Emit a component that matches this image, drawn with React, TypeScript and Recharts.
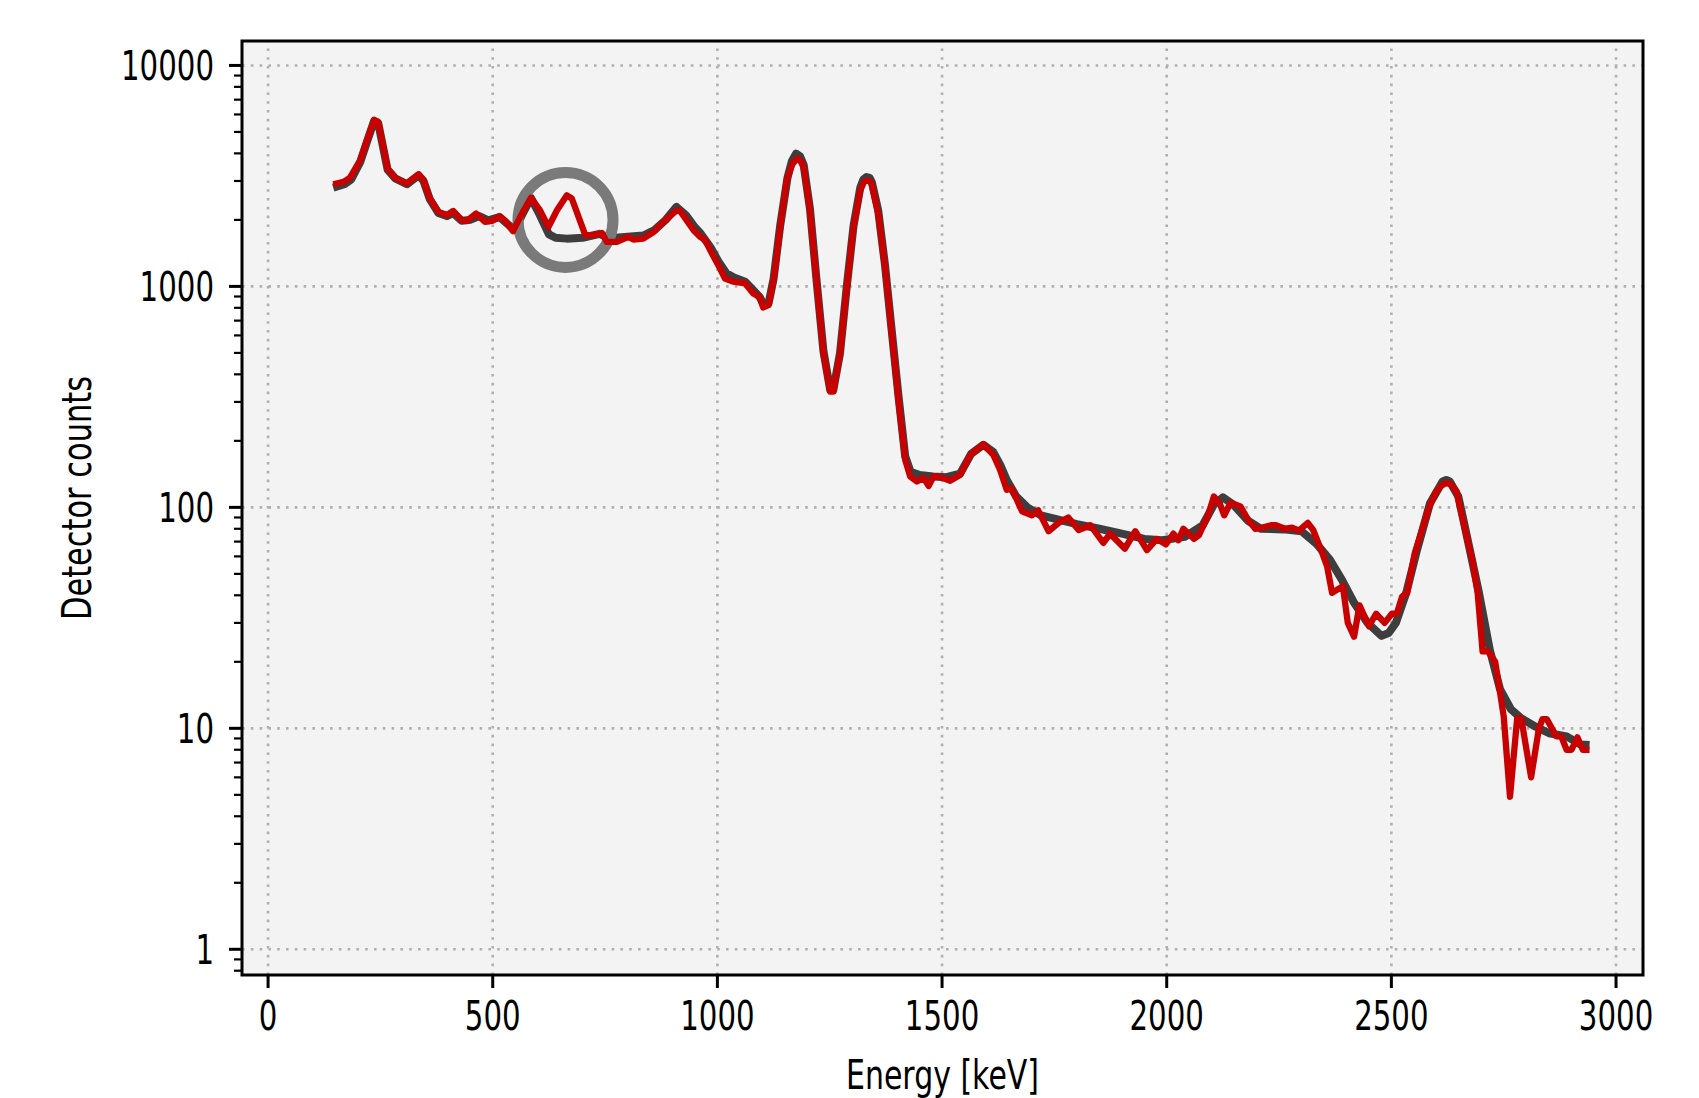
import React from "react";
import {
  LineChart,
  Line,
  XAxis,
  YAxis,
  ReferenceLine,
  ReferenceArea,
  ReferenceDot,
  Label,
} from "recharts";

// ---- data ----
const measuredEnergy = [
  145, 168, 182, 205, 220, 236, 245, 266, 283, 309, 335, 346, 360, 379, 398, 412, 431, 442, 463, 483,
  498, 515, 528, 545, 565, 585, 605, 624, 643, 665, 676, 706, 724, 743, 754, 776, 802, 813, 835, 858,
  880, 910, 917, 947, 962, 973, 984, 1002, 1017, 1036, 1062, 1080, 1094, 1102, 1114, 1125, 1140, 1154,
  1166, 1177, 1184, 1192, 1206, 1221, 1236, 1251, 1258, 1273, 1288, 1303, 1318, 1326, 1333, 1340, 1344,
  1358, 1373, 1388, 1403,
  1418, 1429, 1444, 1459, 1470, 1481, 1496, 1518, 1540, 1563, 1592, 1614, 1629, 1644, 1655, 1678, 1700,
  1714, 1737, 1759, 1781, 1804, 1830, 1859, 1874, 1907, 1930, 1956, 1978, 1998, 2015, 2026, 2037, 2061,
  2072, 2092, 2105, 2119, 2128, 2142, 2164, 2181, 2197, 2213, 2232, 2243, 2263, 2279, 2294, 2314, 2326,
  2345, 2357, 2368, 2392, 2403, 2417, 2429, 2450, 2466, 2485, 2501, 2512, 2524, 2535, 2552, 2563, 2583,
  2598, 2610, 2622, 2633, 2645, 2668, 2680, 2692, 2703, 2715, 2731, 2742, 2750, 2764, 2780, 2789, 2811,
  2828, 2836, 2846, 2867, 2878, 2890, 2901, 2914, 2926, 2941,
];
const measuredCounts = [
  2900, 2970, 3100, 3720, 4580, 5680, 5560, 3410, 3100, 2920, 3215, 3020, 2500, 2175, 2100, 2195, 1990,
  1977, 2136, 1960, 1977, 2077, 1977, 1777, 2136, 2515, 2212, 1858, 2212, 2583, 2500, 1706, 1706, 1745,
  1589, 1589, 1674, 1630, 1645, 1763, 1960, 2212, 2195, 1795, 1674, 1618, 1458, 1248, 1086, 1050, 1031,
  929, 897, 803, 822, 1067, 1858, 3020,
  3550, 3787, 3720, 3470, 2212, 1031, 498, 334, 334, 498, 995, 1858, 2723, 2960, 3020, 2990, 2870,
  2136, 1225, 613, 306,
  164, 138, 131, 136, 125, 138, 137, 132, 140, 173, 193, 173, 148, 120, 122,
  96, 92, 97, 78, 85, 90, 79, 83, 69, 76, 65, 78, 64, 72, 68, 76, 71, 80, 72, 75, 92, 112, 103, 92, 105,
  101, 88, 80, 81, 83, 83, 80, 81, 78.5, 85, 79, 63, 54, 41, 44, 30, 26, 36, 29, 33, 30, 33, 33, 39.5, 41,
  62, 73, 99, 116, 125, 129, 127, 118, 73, 58, 41, 22.3, 22.3, 20, 14.5, 11.3, 4.9, 11.1, 11.1, 6.0,
  9.9, 11, 11, 9.2, 9.2, 8.0, 8.0, 9.1, 8.0, 8.0,
];

const fitEnergy = [
  145, 170, 185, 205, 220, 236, 245, 266, 283, 309, 335, 346, 360, 379, 398, 412, 431, 450, 470, 490,
  515, 535, 550, 565, 585, 605, 625, 640, 665, 700, 738, 760, 800, 835, 860, 885, 909, 930, 950, 962,
  985, 1002, 1020, 1040, 1062, 1080, 1095, 1102, 1114, 1125, 1140, 1156, 1166, 1175, 1184, 1192, 1206,
  1221, 1236, 1251, 1258, 1273, 1288, 1303, 1318, 1325, 1332, 1339, 1344, 1358, 1373, 1388, 1403, 1418,
  1430, 1450, 1480, 1510,
  1540, 1565, 1592, 1614, 1630, 1644, 1665, 1690, 1720, 1759, 1800, 1850, 1900, 1950, 1990, 2040, 2080,
  2105, 2125, 2148, 2181, 2210, 2260, 2300, 2333, 2363, 2390, 2417, 2447, 2478, 2494, 2510, 2533, 2556,
  2586, 2614, 2622, 2630, 2649, 2664, 2695, 2719, 2742, 2766, 2789, 2820, 2851, 2890, 2921, 2941,
];
const fitCounts = [
  2800, 2900, 3050, 3650, 4500, 5600, 5500, 3380, 3080, 2900, 3180, 3000, 2480, 2150, 2080, 2150, 1980,
  2000, 2080, 1990, 2060, 1900, 1800, 2100, 2515, 2100, 1720, 1660, 1645, 1660, 1730, 1650, 1680, 1700,
  1800, 2000, 2290, 2100, 1850, 1745, 1500, 1300, 1148, 1090, 1050, 960, 890, 830, 840, 1080, 1900, 3100,
  3700, 3990, 3880, 3550, 2250, 1050, 510, 340, 340, 500, 1000, 1880, 2800, 3050, 3126, 3090, 2950,
  2200, 1250, 630, 320, 170,
  145, 140, 138, 137, 142, 175, 192, 178, 155, 133, 112, 100, 92, 88, 84, 80, 76, 72, 71, 73.5, 83, 103,
  111, 103, 87, 80, 79.5, 78, 68.5, 58, 47, 37, 30, 26.2, 27, 30, 41, 63, 104.5, 131, 133, 131, 112, 81,
  41, 22.7, 15, 12.2, 11.1, 10.2, 9.5, 9.2, 8.45, 8.4,
];

const xTicks = [0, 500, 1000, 1500, 2000, 2500, 3000];
const yMajorTicks = [1, 10, 100, 1000, 10000];
const yMinorTicks = [
  0.8, 0.9, 2, 3, 4, 5, 6, 7, 8, 9, 20, 30, 40, 50, 60, 70, 80, 90, 200, 300, 400, 500, 600, 700, 800,
  900, 2000, 3000, 4000, 5000, 6000, 7000, 8000, 9000,
];
const xAxisTitle = "Energy [keV]";
const yAxisTitle = "Detector counts";
const markerEnergy = 662;
const markerCounts = 2000;

const measuredData = measuredEnergy.map((e, i) => ({ e, c: measuredCounts[i] }));
const fitData = fitEnergy.map((e, i) => ({ e, c: fitCounts[i] }));
const yTicks = [...yMajorTicks, ...yMinorTicks].sort((a, b) => a - b);

// ---- layout ----
const W = 1699;
const H = 1098;
const PLOT_LEFT = 242;
const PLOT_TOP = 41;
const PLOT_RIGHT = 1643;
const PLOT_BOTTOM = 975;
const X_DOMAIN: [number, number] = [-58, 3060];
const Y_DOMAIN: [number, number] = [0.765, 12900];
const FONT = "'DejaVu Sans', sans-serif";
const FONT_SIZE = 40;
const DIGIT_W = 18.6; // condensed digit advance in the reference

const YTick = (props: any) => {
  const { y, payload } = props;
  const v = payload.value;
  const major = yMajorTicks.includes(v);
  const s = String(v);
  return (
    <g>
      <line
        x1={PLOT_LEFT - (major ? 13 : 8)}
        x2={PLOT_LEFT}
        y1={y}
        y2={y}
        stroke="#000"
        strokeWidth={major ? 3 : 2.2}
      />
      {major && (
        <text
          x={PLOT_LEFT - 28 - s.length * DIGIT_W}
          y={y + 14.5}
          textAnchor="start"
          fontSize={FONT_SIZE}
          fontFamily={FONT}
          textLength={s.length * DIGIT_W}
          lengthAdjust="spacingAndGlyphs"
          fill="#000"
        >
          {s}
        </text>
      )}
    </g>
  );
};

const XTick = (props: any) => {
  const { x, payload } = props;
  const s = String(payload.value);
  return (
    <g>
      <line x1={x} x2={x} y1={PLOT_BOTTOM} y2={PLOT_BOTTOM + 13} stroke="#000" strokeWidth={3} />
      <text
        x={x - (s.length * DIGIT_W) / 2}
        y={PLOT_BOTTOM + 55}
        textAnchor="start"
        fontSize={FONT_SIZE}
        fontFamily={FONT}
        textLength={s.length * DIGIT_W}
        lengthAdjust="spacingAndGlyphs"
        fill="#000"
      >
        {s}
      </text>
    </g>
  );
};

const GRID = { stroke: "#b0b0b0", strokeWidth: 2.6, strokeDasharray: "2.6 6.2" };

export default function App() {
  const xTitleW = 193;
  const yTitleW = 244;
  const xTitleCx = (PLOT_LEFT + PLOT_RIGHT) / 2;
  return (
    <div style={{ width: W, height: H, overflow: "hidden", background: "#fff" }}>
      <style>{"body{margin:0;overflow:hidden;}"}</style>
      <LineChart
        width={W}
        height={H}
        margin={{ top: PLOT_TOP, right: W - PLOT_RIGHT, bottom: 0, left: 0 }}
      >
        <XAxis
          dataKey="e"
          type="number"
          domain={X_DOMAIN}
          allowDataOverflow
          ticks={xTicks}
          interval={0}
          tick={<XTick />}
          tickLine={false}
          axisLine={false}
          tickSize={0}
          tickMargin={0}
          height={H - PLOT_BOTTOM}
        >
          <Label
            content={() => (
              <text
                x={xTitleCx - xTitleW / 2}
                y={1089}
                textAnchor="start"
                fontSize={FONT_SIZE}
                fontFamily={FONT}
                textLength={xTitleW}
                lengthAdjust="spacingAndGlyphs"
                fill="#000"
              >
                {xAxisTitle}
              </text>
            )}
          />
        </XAxis>
        <YAxis
          dataKey="c"
          type="number"
          scale="log"
          domain={Y_DOMAIN}
          allowDataOverflow
          ticks={yTicks}
          interval={0}
          tick={<YTick />}
          tickLine={false}
          axisLine={false}
          tickSize={0}
          tickMargin={0}
          width={PLOT_LEFT}
        >
          <Label
            content={() => (
              <text
                x={91}
                y={498 + yTitleW / 2}
                transform={`rotate(-90, 91, ${498 + yTitleW / 2})`}
                textAnchor="start"
                fontSize={FONT_SIZE}
                fontFamily={FONT}
                textLength={yTitleW}
                lengthAdjust="spacingAndGlyphs"
                fill="#000"
              >
                {yAxisTitle}
              </text>
            )}
          />
        </YAxis>

        <ReferenceArea
          x1={X_DOMAIN[0]}
          x2={X_DOMAIN[1]}
          y1={Y_DOMAIN[0]}
          y2={Y_DOMAIN[1]}
          fill="#f3f3f3"
          fillOpacity={1}
          stroke="none"
          ifOverflow="visible"
          zIndex={-200}
        />
        {xTicks.map((t) => (
          <ReferenceLine key={"gx" + t} x={t} {...GRID} zIndex={-100} />
        ))}
        {yMajorTicks.map((t) => (
          <ReferenceLine key={"gy" + t} y={t} {...GRID} zIndex={-100} />
        ))}

        <Line
          data={fitData}
          dataKey="c"
          type="linear"
          stroke="#3e3e3e"
          strokeWidth={8}
          strokeLinejoin="round"
          dot={false}
          activeDot={false}
          isAnimationActive={false}
          zIndex={100}
        />
        <ReferenceDot
          x={markerEnergy}
          y={markerCounts}
          r={47.5}
          fill="none"
          stroke="#7a7a7a"
          strokeWidth={11}
          ifOverflow="visible"
          zIndex={150}
        />
        <Line
          data={measuredData}
          dataKey="c"
          type="linear"
          stroke="#c80000"
          strokeWidth={6.3}
          strokeLinejoin="round"
          dot={false}
          activeDot={false}
          isAnimationActive={false}
          zIndex={200}
        />
        <ReferenceArea
          x1={X_DOMAIN[0]}
          x2={X_DOMAIN[1]}
          y1={Y_DOMAIN[0]}
          y2={Y_DOMAIN[1]}
          fill="none"
          stroke="#000"
          strokeWidth={3}
          ifOverflow="visible"
          zIndex={300}
        />
      </LineChart>
    </div>
  );
}
